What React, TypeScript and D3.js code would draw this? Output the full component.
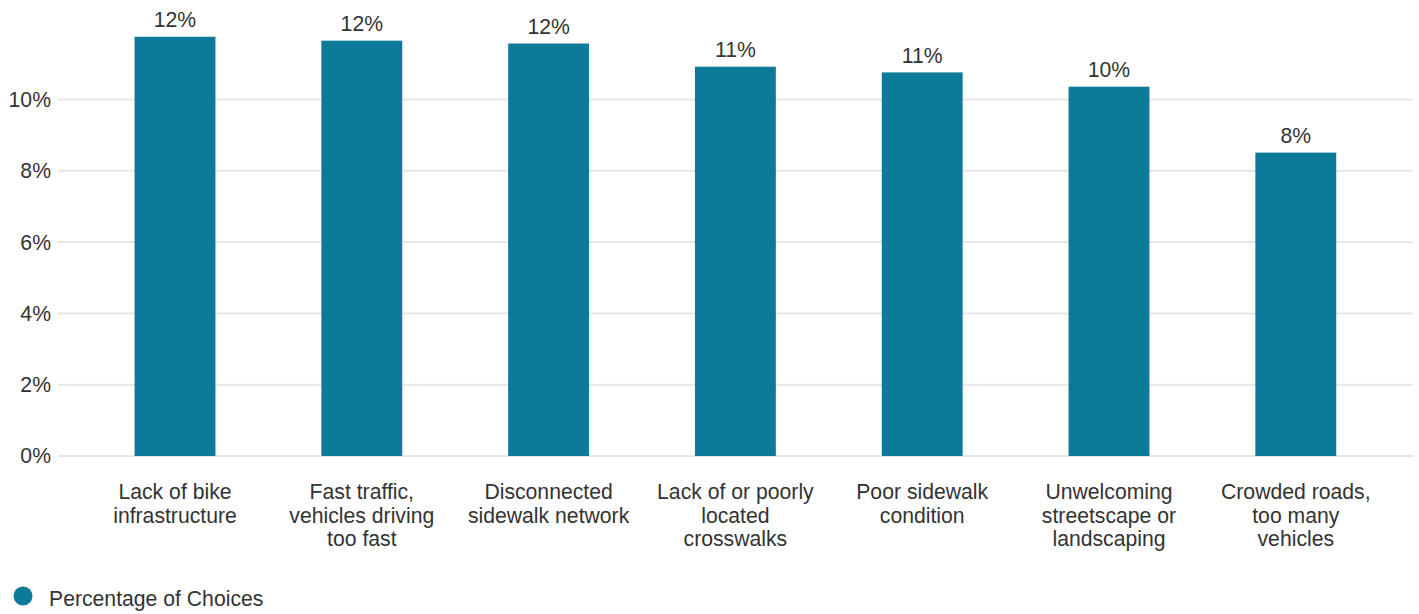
import React from "react";
import * as d3 from "d3";

const categories: string[][] = [
  ["Lack of bike", "infrastructure"],
  ["Fast traffic,", "vehicles driving", "too fast"],
  ["Disconnected", "sidewalk network"],
  ["Lack of or poorly", "located", "crosswalks"],
  ["Poor sidewalk", "condition"],
  ["Unwelcoming", "streetscape or", "landscaping"],
  ["Crowded roads,", "too many", "vehicles"],
];
const values: number[] = [11.76, 11.65, 11.57, 10.92, 10.76, 10.36, 8.51];
const valueLabels: string[] = ["12%", "12%", "12%", "11%", "11%", "10%", "8%"];
const yTicks: number[] = [0, 2, 4, 6, 8, 10];
const seriesName = "Percentage of Choices";

const W = 1419;
const H = 614;
const COLOR = "#0e7a99";
const FONT = "'Liberation Sans', Arial, sans-serif";
const FS = 21.2;

export default function App() {
  const x = d3
    .scaleBand<number>()
    .domain(categories.map((_, i) => i))
    .range([81.6, 1389.2])
    .paddingInner(0.567)
    .paddingOuter(0.2835);
  const y = d3.scaleLinear().domain([0, 10]).range([456, 99.5]);

  return (
    <svg width={W} height={H} style={{ position: "absolute", left: 0, top: 0 }} fontFamily={FONT}>
      {yTicks.map((t) => (
        <g key={t}>
          <line x1={58} x2={1413} y1={y(t)} y2={y(t)} stroke="#e6e6e6" strokeWidth={2} />
          <text x={51} y={y(t)} dy="0.35em" textAnchor="end" fontSize={FS} fill="#333">
            {t}%
          </text>
        </g>
      ))}
      {values.map((v, i) => (
        <g key={i}>
          <rect x={x(i)} y={y(v)} width={x.bandwidth()} height={y(0) - y(v)} fill={COLOR} />
          <text
            x={(x(i) as number) + x.bandwidth() / 2}
            y={y(v) - 9.5}
            textAnchor="middle"
            fontSize={FS}
            fill="#333"
          >
            {valueLabels[i]}
          </text>
          <text textAnchor="middle" fontSize={FS} fill="#333">
            {categories[i].map((line, j) => (
              <tspan key={j} x={(x(i) as number) + x.bandwidth() / 2} y={499 + j * 23.5}>
                {line}
              </tspan>
            ))}
          </text>
        </g>
      ))}
      <circle cx={23} cy={596} r={9.5} fill={COLOR} />
      <text x={49} y={606} fontSize={FS} fill="#333">
        {seriesName}
      </text>
    </svg>
  );
}
